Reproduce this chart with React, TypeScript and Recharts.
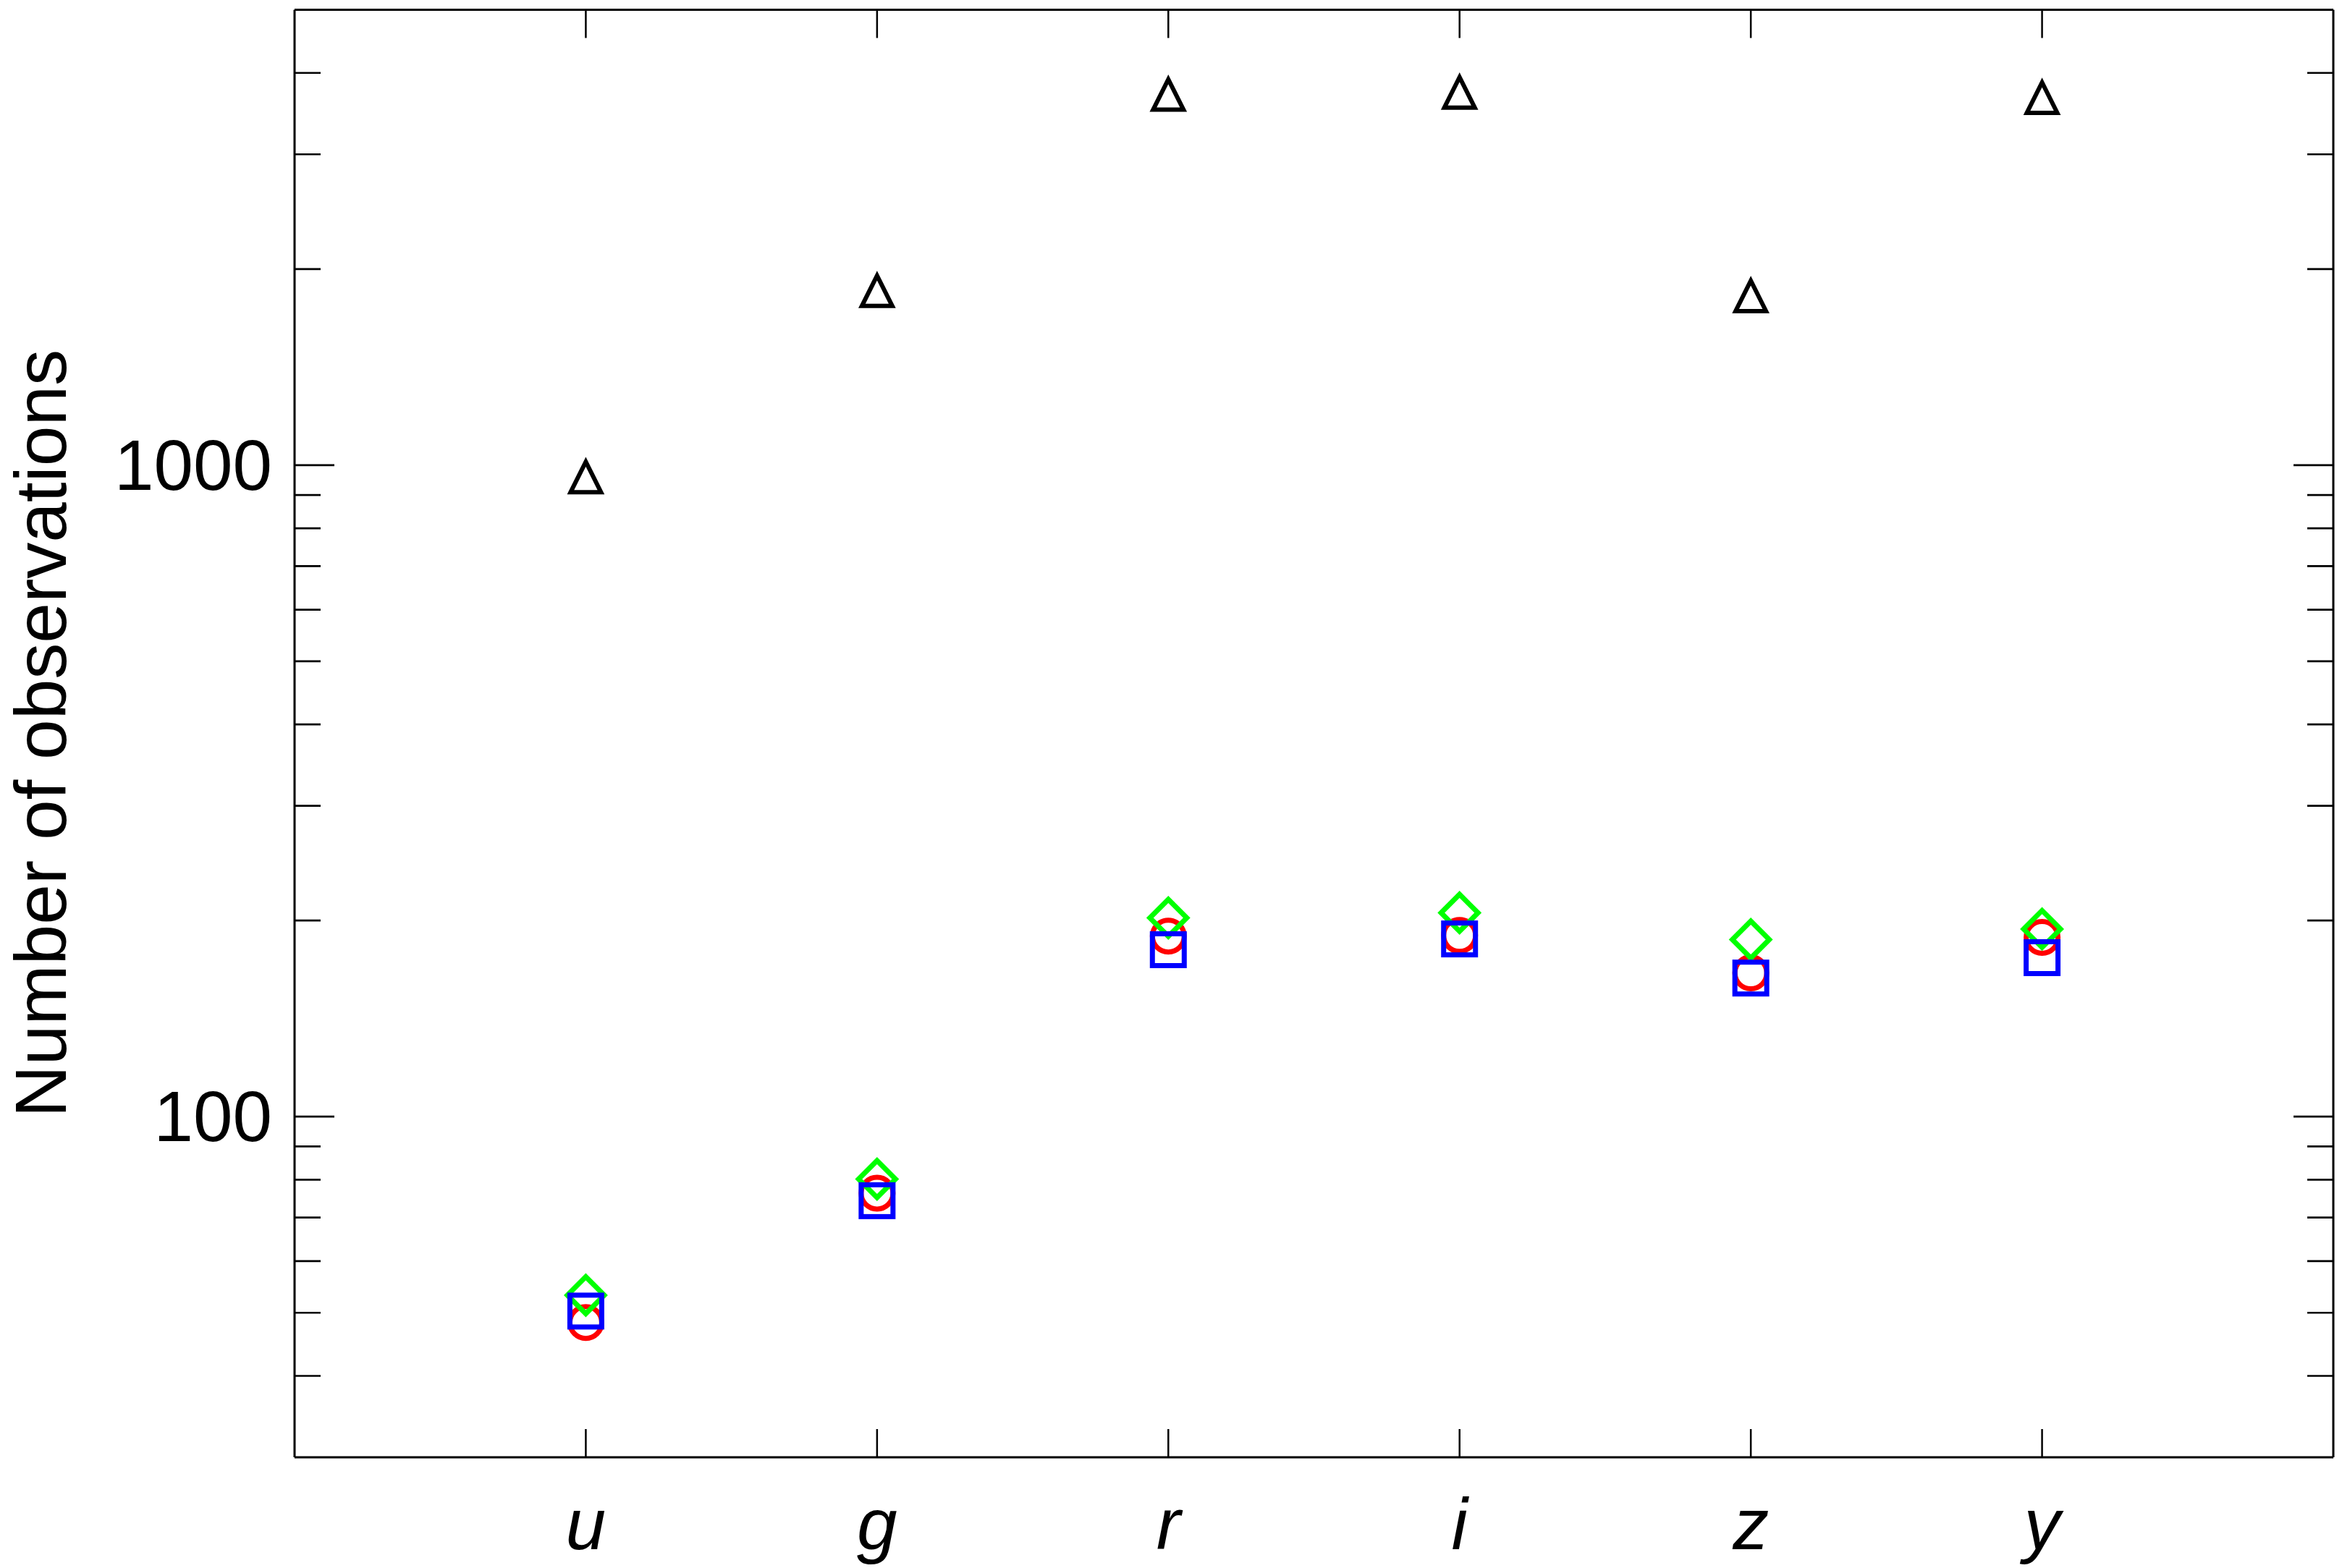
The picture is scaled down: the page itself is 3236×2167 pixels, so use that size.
import { ScatterChart, Scatter, XAxis, YAxis } from "recharts";

const bands = ["u", "g", "r", "i", "z", "y"];
const totalObs = [959, 1852, 3706, 3734, 1819, 3665];
const redObs = [48.3, 76.3, 189.3, 189.7, 166.2, 188.4];
const greenObs = [53.2, 80.2, 201.9, 205.5, 187.0, 194.1];
const blueObs = [50.3, 74.3, 180.4, 187.4, 163.2, 175.4];

const xTicks = [1, 2, 3, 4, 5, 6];
const yTicks = [
  40, 50, 60, 70, 80, 90, 100, 200, 300, 400, 500, 600, 700, 800, 900, 1000,
  2000, 3000, 4000,
];
const yLabelled = [100, 1000];

const FONT = '"Liberation Sans", Arial, Helvetica, sans-serif';

const toPoints = (values: number[]) =>
  bands.map((band, i) => ({ pos: i + 1, band, value: values[i] }));

const LeftTick = (props: any) => {
  const { x, y, payload } = props;
  const major = yLabelled.includes(payload.value);
  return (
    <g>
      <line x1={x} x2={x + (major ? 55 : 36)} y1={y} y2={y} stroke="#000" strokeWidth={2.7} />
      {major && (
        <text x={x - 31} y={y} dy={34} textAnchor="end" fontSize={98} fontFamily={FONT} fill="#000">
          {payload.value}
        </text>
      )}
    </g>
  );
};

const RightTick = (props: any) => {
  const { x, y, payload } = props;
  const major = yLabelled.includes(payload.value);
  return <line x1={x} x2={x - (major ? 55 : 36)} y1={y} y2={y} stroke="#000" strokeWidth={2.7} />;
};

const BottomTick = (props: any) => {
  const { x, y, payload } = props;
  return (
    <g>
      <line x1={x} x2={x} y1={y} y2={y - 39} stroke="#000" strokeWidth={2.5} />
      <text x={x} y={y + 127} textAnchor="middle" fontSize={100} fontStyle="italic" fontFamily={FONT} fill="#000">
        {bands[payload.value - 1]}
      </text>
    </g>
  );
};

const TopTick = (props: any) => {
  const { x, y } = props;
  return <line x1={x} x2={x} y1={y} y2={y + 39} stroke="#000" strokeWidth={2.5} />;
};

const Triangle = ({ cx, cy }: any) => (
  <polygon
    points={`${cx - 21},${cy + 21} ${cx},${cy - 21} ${cx + 21},${cy + 21}`}
    fill="none"
    stroke="#000"
    strokeWidth={6}
  />
);

const Circle = ({ cx, cy }: any) => (
  <circle cx={cx} cy={cy} r={22} fill="none" stroke="#ff0000" strokeWidth={7} />
);

const Diamond = ({ cx, cy }: any) => (
  <polygon
    points={`${cx},${cy - 25.5} ${cx + 25.5},${cy} ${cx},${cy + 25.5} ${cx - 25.5},${cy}`}
    fill="none"
    stroke="#00ff00"
    strokeWidth={7}
  />
);

const Square = ({ cx, cy }: any) => (
  <rect x={cx - 22} y={cy - 22} width={44} height={44} fill="none" stroke="#0000ff" strokeWidth={7} />
);

const YTitle = (props: any) => {
  const { viewBox } = props;
  const cy = viewBox.y + viewBox.height / 2;
  return (
    <text
      x={91}
      y={cy}
      transform={`rotate(-90, 91, ${cy})`}
      textAnchor="middle"
      fontSize={100}
      fontFamily={FONT}
      fill="#000"
    >
      Number of observations
    </text>
  );
};

const frameLine = { stroke: "#000", strokeWidth: 3 };

export default function App() {
  return (
    <div style={{ position: "absolute", left: 0, top: 0, width: 3236, height: 2167, background: "#fff" }}>
      <ScatterChart width={3236} height={2167} margin={{ top: 12.5, right: 11, bottom: 0, left: 0 }}>
        <XAxis
          xAxisId="b"
          dataKey="pos"
          type="number"
          domain={[0, 7]}
          ticks={xTicks}
          interval={0}
          height={153}
          tickSize={0}
          tickMargin={0}
          tickLine={false}
          axisLine={frameLine}
          tick={BottomTick}
        />
        <XAxis
          xAxisId="t"
          orientation="top"
          dataKey="pos"
          type="number"
          domain={[0, 7]}
          ticks={xTicks}
          interval={0}
          height={1}
          tickSize={0}
          tickMargin={0}
          tickLine={false}
          axisLine={frameLine}
          tick={TopTick}
        />
        <YAxis
          yAxisId="l"
          dataKey="value"
          type="number"
          scale="log"
          domain={[30, 5000]}
          allowDataOverflow
          ticks={yTicks}
          interval={0}
          width={407}
          tickSize={0}
          tickMargin={0}
          tickLine={false}
          axisLine={frameLine}
          tick={LeftTick}
          label={{ content: YTitle }}
        />
        <YAxis
          yAxisId="r"
          orientation="right"
          dataKey="value"
          type="number"
          scale="log"
          domain={[30, 5000]}
          allowDataOverflow
          ticks={yTicks}
          interval={0}
          width={1}
          tickSize={0}
          tickMargin={0}
          tickLine={false}
          axisLine={frameLine}
          tick={RightTick}
        />
        <Scatter xAxisId="t" yAxisId="r" data={toPoints(totalObs)} shape={() => <g />} isAnimationActive={false} />
        <Scatter xAxisId="b" yAxisId="l" data={toPoints(totalObs)} shape={Triangle} isAnimationActive={false} />
        <Scatter xAxisId="b" yAxisId="l" data={toPoints(redObs)} shape={Circle} isAnimationActive={false} />
        <Scatter xAxisId="b" yAxisId="l" data={toPoints(greenObs)} shape={Diamond} isAnimationActive={false} />
        <Scatter xAxisId="b" yAxisId="l" data={toPoints(blueObs)} shape={Square} isAnimationActive={false} />
      </ScatterChart>
    </div>
  );
}
